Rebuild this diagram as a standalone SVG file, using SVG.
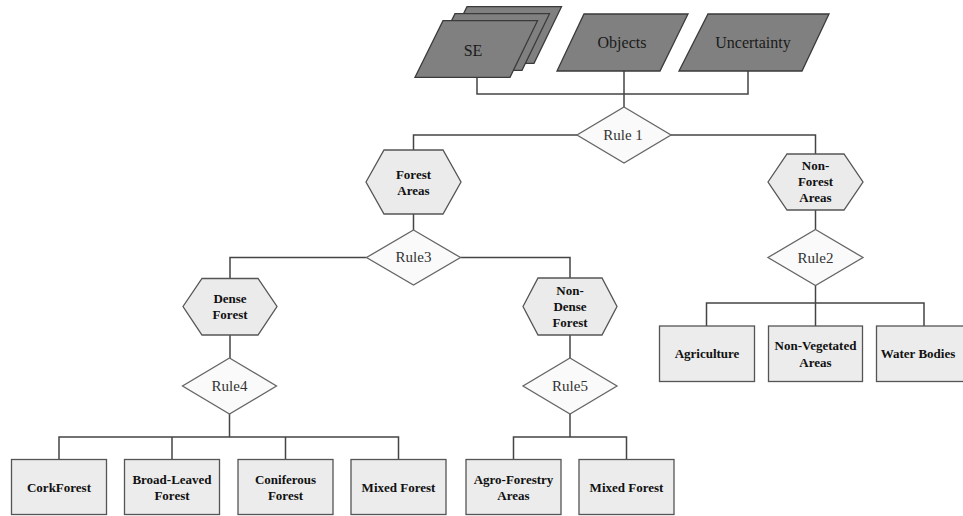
<svg xmlns="http://www.w3.org/2000/svg" width="963" height="516" viewBox="0 0 963 516">
<style>
.para{fill:#808080;stroke:#3a3a3a;stroke-width:1.3}
.hex{fill:#ebebeb;stroke:#555;stroke-width:1.3}
.box{fill:#ececec;stroke:#555;stroke-width:1.3}
.dia{fill:#fafafa;stroke:#666;stroke-width:1.3}
.ln{fill:none;stroke:#444;stroke-width:1.5}
.pt{font-family:"Liberation Serif",serif;font-size:16px;fill:#1a1a1a;text-anchor:middle}
.rt{font-family:"Liberation Serif",serif;font-size:15px;fill:#333;text-anchor:middle}
.bt{font-family:"Liberation Serif",serif;font-size:13px;font-weight:bold;fill:#111;text-anchor:middle}
</style>
<rect width="963" height="516" fill="#fff"/>
<g id="connectors">
<polyline class="ln" points="477,77 477,94 748,94 748,71"/>
<line class="ln" x1="624" y1="71" x2="624" y2="107"/>
<polyline class="ln" points="577,135 413.5,135 413.5,150"/>
<polyline class="ln" points="671,135 815.5,135 815.5,154"/>
<line class="ln" x1="413.5" y1="214" x2="413.5" y2="230"/>
<polyline class="ln" points="366.5,257.5 230,257.5 230,278.5"/>
<polyline class="ln" points="460.5,257.5 570,257.5 570,278"/>
<line class="ln" x1="815.5" y1="210" x2="815.5" y2="229.5"/>
<line class="ln" x1="815.5" y1="285.5" x2="815.5" y2="303"/>
<polyline class="ln" points="706.5,326 706.5,303 924,303 924,326"/>
<line class="ln" x1="815.5" y1="303" x2="815.5" y2="326"/>
<line class="ln" x1="230" y1="335" x2="230" y2="358"/>
<line class="ln" x1="570" y1="335" x2="570" y2="358"/>
<line class="ln" x1="229.5" y1="414" x2="229.5" y2="437"/>
<polyline class="ln" points="59,459.5 59,437 398.5,437 398.5,459.5"/>
<line class="ln" x1="172" y1="437" x2="172" y2="459.5"/>
<line class="ln" x1="285.5" y1="437" x2="285.5" y2="459.5"/>
<line class="ln" x1="570" y1="414" x2="570" y2="437"/>
<polyline class="ln" points="513.5,459.5 513.5,437 626.5,437 626.5,459.5"/>
</g>
<g id="se">
<polygon class="para" points="467,6.7 561.5,6.7 534,63.3 439,63.3"/>
<polygon class="para" points="455,13.7 549.5,13.7 522,70.3 427,70.3"/>
<polygon class="para" points="443,20.7 537.5,20.7 510,77.3 415,77.3"/>
<text class="pt" x="473" y="55.5">SE</text>
</g>
<g id="objects">
<polygon class="para" points="584,14 688,14 660,71 557,71"/>
<text class="pt" x="622" y="47.5">Objects</text>
</g>
<g id="uncertainty">
<polygon class="para" points="708,14 829,14 802,71 679,71"/>
<text class="pt" x="753" y="47.5">Uncertainty</text>
</g>
<g id="rule1">
<polygon class="dia" points="624,107 671,135 624,163 577,135"/>
<text class="rt" x="623" y="140">Rule 1</text>
</g>
<g id="forest-areas">
<polygon class="hex" points="366,182 384,150 443,150 461,182 443,214 384,214"/>
<text class="bt" x="413.5" y="178.5">Forest</text>
<text class="bt" x="413.5" y="194.5">Areas</text>
</g>
<g id="non-forest-areas">
<polygon class="hex" points="768,182 787,154 844,154 863,182 844,210 787,210"/>
<text class="bt" x="815.5" y="169.5">Non-</text>
<text class="bt" x="815.5" y="186">Forest</text>
<text class="bt" x="815.5" y="201.5">Areas</text>
</g>
<g id="rule3">
<polygon class="dia" points="413.5,230 460.5,257.5 413.5,285 366.5,257.5"/>
<text class="rt" x="413.5" y="262">Rule3</text>
</g>
<g id="rule2">
<polygon class="dia" points="815.5,229.5 863,257.5 815.5,285.5 768,257.5"/>
<text class="rt" x="815.5" y="262.5">Rule2</text>
</g>
<g id="dense-forest">
<polygon class="hex" points="183,306.5 202,278.5 258,278.5 277,306.5 258,335 202,335"/>
<text class="bt" x="230" y="302.5">Dense</text>
<text class="bt" x="230" y="318.5">Forest</text>
</g>
<g id="non-dense-forest">
<polygon class="hex" points="523,306.5 538,278 602,278 617,306.5 602,335 538,335"/>
<text class="bt" x="570" y="294.5">Non-</text>
<text class="bt" x="570" y="311">Dense</text>
<text class="bt" x="570" y="326.5">Forest</text>
</g>
<g id="agriculture">
<rect class="box" x="659.5" y="326" width="95" height="55.5"/>
<text class="bt" x="707" y="358">Agriculture</text>
</g>
<g id="non-vegetated">
<rect class="box" x="768.5" y="326" width="94" height="55.5"/>
<text class="bt" x="815.5" y="350">Non-Vegetated</text>
<text class="bt" x="815.5" y="366.5">Areas</text>
</g>
<g id="water-bodies">
<rect class="box" x="876.5" y="326" width="95" height="55.5"/>
<text class="bt" x="918" y="358">Water Bodies</text>
</g>
<g id="rule4">
<polygon class="dia" points="229.5,358 276.5,386 229.5,414 182.5,386"/>
<text class="rt" x="229.5" y="391">Rule4</text>
</g>
<g id="rule5">
<polygon class="dia" points="570,358 617,386 570,414 523,386"/>
<text class="rt" x="570" y="391">Rule5</text>
</g>
<g id="corkforest">
<rect class="box" x="11.5" y="459.5" width="95" height="55"/>
<text class="bt" x="59" y="491.5">CorkForest</text>
</g>
<g id="broad-leaved">
<rect class="box" x="124.5" y="459.5" width="95" height="55"/>
<text class="bt" x="172" y="483.5">Broad-Leaved</text>
<text class="bt" x="172" y="500">Forest</text>
</g>
<g id="coniferous">
<rect class="box" x="238" y="459.5" width="95" height="55"/>
<text class="bt" x="285.5" y="483.5">Coniferous</text>
<text class="bt" x="285.5" y="500">Forest</text>
</g>
<g id="mixed-forest-1">
<rect class="box" x="351" y="459.5" width="95" height="55"/>
<text class="bt" x="398.5" y="491.5">Mixed Forest</text>
</g>
<g id="agro-forestry">
<rect class="box" x="466" y="459.5" width="95" height="55"/>
<text class="bt" x="513.5" y="483.5">Agro-Forestry</text>
<text class="bt" x="513.5" y="500">Areas</text>
</g>
<g id="mixed-forest-2">
<rect class="box" x="579" y="459.5" width="95" height="55"/>
<text class="bt" x="626.5" y="491.5">Mixed Forest</text>
</g>
</svg>
